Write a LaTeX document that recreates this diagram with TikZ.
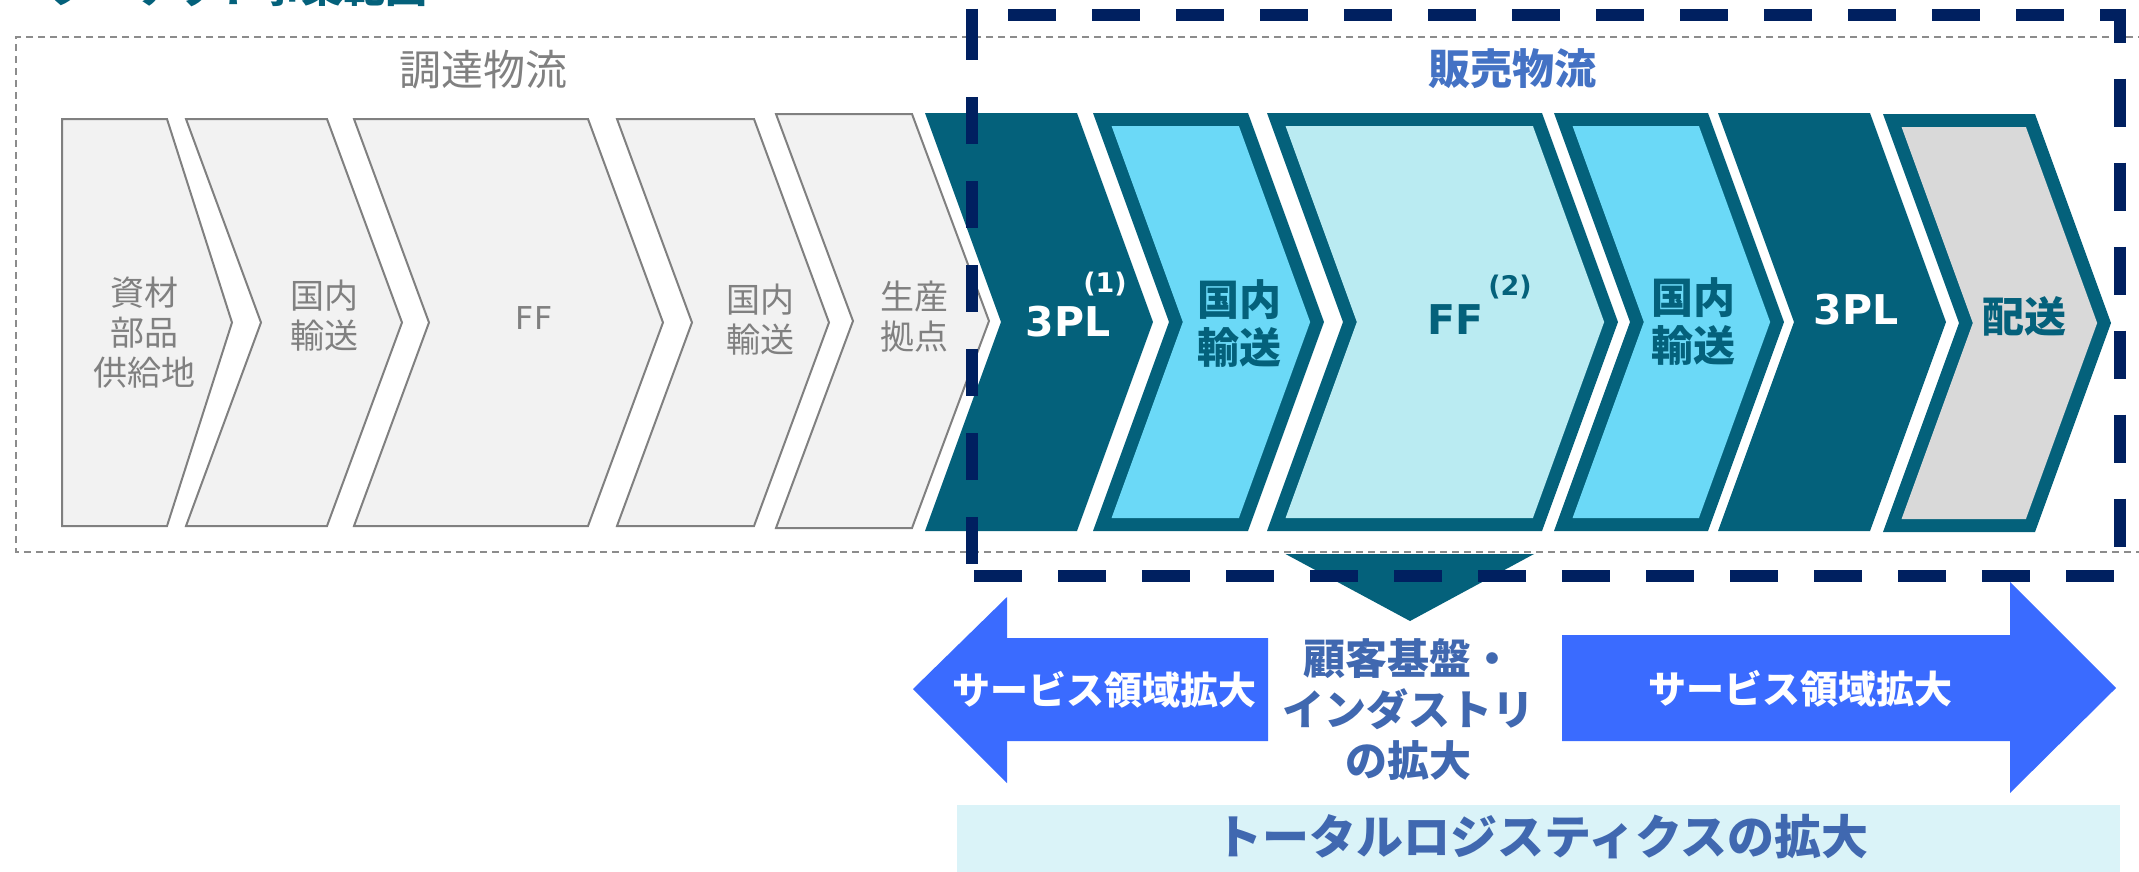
\documentclass[tikz,border=0pt]{standalone}
\usepackage{fontspec}
\setmainfont{Noto Sans CJK JP}
\newfontfamily\latf{DejaVu Sans}
\definecolor{tealD}{HTML}{04617B}
\definecolor{cyanL}{HTML}{6BD9F7}
\definecolor{cyanXL}{HTML}{BAEBF2}
\definecolor{grayF}{HTML}{F2F2F2}
\definecolor{grayL}{HTML}{8C8C8C}
\definecolor{grayT}{HTML}{808080}
\definecolor{grayD}{HTML}{D9D9D9}
\definecolor{navyD}{HTML}{002060}
\definecolor{blueA}{HTML}{4472C4}
\definecolor{blueB}{HTML}{4068B0}
\definecolor{arrowB}{HTML}{3A6BFF}
\definecolor{boxC}{HTML}{DAF3F8}
% chevron: #1 options, #2 xL, #3 xR, #4 ytop, #5 ybot, #6 tip offset, #7 inset, #8 notch flag
\newcommand{\chevpath}[8]{%
  \pgfmathsetmacro{\cvH}{(#5-#4)/2}%
  \pgfmathsetmacro{\cvM}{(#5+#4)/2}%
  \pgfmathsetmacro{\cvS}{#6/\cvH}%
  \pgfmathsetmacro{\cvK}{#7*sqrt(1+\cvS*\cvS)}%
  \pgfmathsetmacro{\cvT}{#4+#7}%
  \pgfmathsetmacro{\cvB}{#5-#7}%
  \pgfmathsetmacro{\cvR}{#3-\cvK+\cvS*#7}%
  \pgfmathsetmacro{\cvP}{#3-\cvK+#6}%
  \pgfmathsetmacro{\cvL}{#8>0 ? #2+\cvK+\cvS*#7 : #2+#7}%
  \pgfmathsetmacro{\cvN}{#8>0 ? #2+\cvK+#6 : #2+#7}%
  \path[#1] (\cvL,\cvT) -- (\cvR,\cvT) -- (\cvP,\cvM) -- (\cvR,\cvB) -- (\cvL,\cvB) -- (\cvN,\cvM) -- cycle;%
}
\tikzset{
  gchev/.style={fill=grayF, draw=grayT, line width=2},
  gtxt/.style={text=grayT, align=center, font=\fontsize{34}{40}\selectfont},
  ttxt/.style={text=tealD, align=center, font=\bfseries\fontsize{42}{48}\selectfont},
  pltxt/.style={text=white, font=\latf\bfseries\fontsize{41}{48}\selectfont},
  suptxt/.style={font=\latf\bfseries\fontsize{27}{30}\selectfont},
  wtxt/.style={text=white, font=\bfseries\fontsize{38}{44}\selectfont},
  navyline/.style={navyD, line width=12},
}
\begin{document}
\begin{tikzpicture}[x=1pt,y=-1pt, every node/.style={inner sep=0pt, outer sep=0pt}]
\useasboundingbox (0,0) rectangle (2139,871);
% title (cut off at top)
\node[anchor=base west, text=tealD, font=\bfseries\fontsize{42}{48}\selectfont] (ttl) at (49,2) {ターゲット事業範囲};
% gray dashed frame
\draw[grayL, line width=2.5, dash pattern=on 7 off 5] (2145,37) -- (16,37) -- (16,552) -- (2145,552);
% procurement chevrons
\chevpath{gchev}{62}{167}{119}{526}{65}{0}{0}
\chevpath{gchev}{186}{327}{119}{526}{75}{0}{1}
\chevpath{gchev}{354}{588}{119}{526}{75}{0}{1}
\chevpath{gchev}{617}{754}{119}{526}{75}{0}{1}
\chevpath{gchev}{776}{912}{114}{528}{77}{0}{1}
% sales chevrons
\chevpath{fill=tealD}{925}{1077}{113}{531}{76}{0}{1}
\chevpath{fill=tealD}{1093}{1248}{113}{531}{76}{0}{1}
\chevpath{fill=cyanL}{1093}{1248}{113}{531}{76}{13}{1}
\chevpath{fill=tealD}{1267}{1542}{113}{531}{76}{0}{1}
\chevpath{fill=cyanXL}{1267}{1542}{113}{531}{76}{13}{1}
\chevpath{fill=tealD}{1554}{1708}{113}{531}{76}{0}{1}
\chevpath{fill=cyanL}{1554}{1708}{113}{531}{76}{13}{1}
\chevpath{fill=tealD}{1718}{1870}{113}{531}{76}{0}{1}
\chevpath{fill=tealD}{1883}{2035}{114}{532}{76}{0}{1}
\chevpath{fill=grayD}{1883}{2035}{114}{532}{76}{13}{1}
% triangle
\fill[tealD] (1285.5,554) -- (1534,554) -- (1410,621) -- cycle;
% arrows
\fill[arrowB] (913,689) -- (1007,597) -- (1007,638) -- (1268,638) -- (1268,741) -- (1007,741) -- (1007,783) -- cycle;
\fill[arrowB] (1562,635) -- (2010,635) -- (2010,582) -- (2116,688) -- (2010,793) -- (2010,741) -- (1562,741) -- cycle;
% bottom box
\fill[boxC] (957,805) rectangle (2120,875);
% navy dashed frame
\draw[navyline, dash pattern=on 48 off 36, dash phase=48] (972,14.5) -- (2120,14.5) -- (2120,576) -- (972,576);
\draw[navyline, dash pattern=on 51.5 off 37 on 47 off 37 on 47 off 37 on 47 off 37 on 47 off 37 on 47 off 37 on 47 off 37] (972,8.5) -- (972,576);
% headings
\node[text=grayT, font=\fontsize{42}{48}\selectfont] (h1) at (483,70) {調達物流};
\node[text=blueA, font=\bfseries\fontsize{42}{48}\selectfont] (h2) at (1512,69) {販売物流};
% procurement texts
\node[gtxt] (t1) at (144,333) {資材\\部品\\供給地};
\node[gtxt] (t2) at (324,316) {国内\\輸送};
\node[gtxt, font=\latf\fontsize{31.5}{36}\selectfont] (t3) at (534,318) {FF};
\node[gtxt] (t4) at (760,320) {国内\\輸送};
\node[gtxt] (t5) at (914,317) {生産\\拠点};
% sales texts
\node[pltxt] (t6) at (1068,322) {3PL};
\node[suptxt, text=white] (t6s) at (1105,284) {(1)};
\node[ttxt] (t7) at (1239,324) {国内\\輸送};
\node[ttxt, font=\latf\bfseries\fontsize{41}{48}\selectfont] (t8) at (1455,320) {FF};
\node[suptxt, text=tealD] (t8s) at (1510,287) {(2)};
\node[ttxt] (t9) at (1693,322) {国内\\輸送};
\node[pltxt] (t10) at (1856,310) {3PL};
\node[ttxt] (t11) at (2024,316) {配送};
% bottom texts
\node[text=blueB, align=center, font=\bfseries\fontsize{42}{51}\selectfont] (cc) at (1408,710) {顧客基盤・\\インダストリ\\の拡大};
\node[wtxt] (al) at (1104,690) {サービス領域拡大};
\node[wtxt] (ar) at (1800,689) {サービス領域拡大};
\node[text=blueB, font=\bfseries\fontsize{47}{52}\selectfont] (bt) at (1542,837) {トータルロジスティクスの拡大};
\end{tikzpicture}
\end{document}
